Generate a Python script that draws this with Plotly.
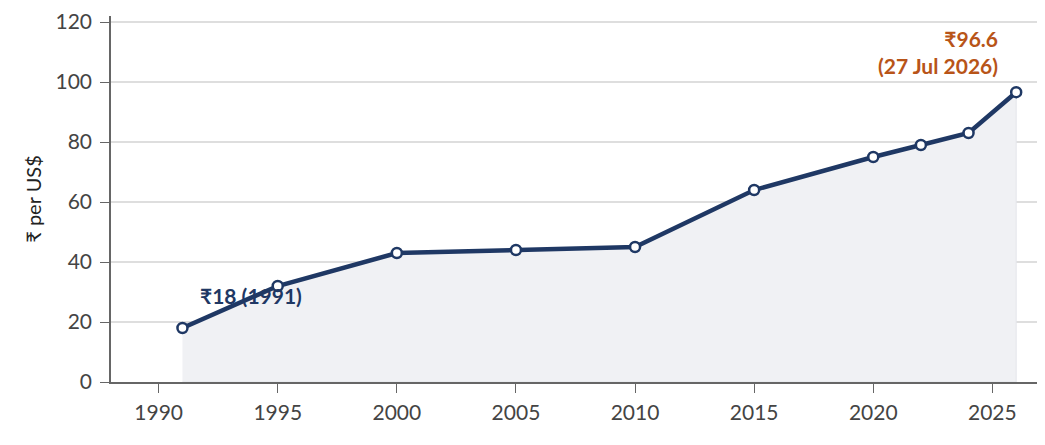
import plotly.graph_objects as go

# rupees per US dollar, selected years
years = [1991, 1995, 2000, 2005, 2010, 2015, 2020, 2022, 2024, 2026]
rates = [18, 32, 43, 44, 45, 64, 75, 79, 83, 96.6]

x_ticks = [1990, 1995, 2000, 2005, 2010, 2015, 2020, 2025]
y_ticks = [0, 20, 40, 60, 80, 100, 120]

start_label = "₹18 (1991)"
end_label = "₹96.6<br>(27 Jul 2026)"

NAVY = "#1f3864"
RUST = "#b85418"
FONT = "Lato, 'Open Sans', sans-serif"

fig = go.Figure()

# shaded area under the line (closed polygon so the edges show faintly)
fig.add_trace(go.Scatter(
    x=years + [years[-1], years[0]],
    y=rates + [0, 0],
    fill="toself",
    fillcolor="#f0f1f4",
    line=dict(color="#e3e5ea", width=1),
    mode="lines",
    hoverinfo="skip",
    showlegend=False,
))

fig.add_trace(go.Scatter(
    x=years,
    y=rates,
    mode="lines+markers",
    line=dict(color=NAVY, width=4.5),
    marker=dict(size=10, color="white", line=dict(color=NAVY, width=2.5)),
    showlegend=False,
))

# labels for the first and last points
fig.add_annotation(
    x=years[0] + 0.65, y=28.7, text=f"<b>{start_label}</b>",
    showarrow=False, xanchor="left", yanchor="middle",
    font=dict(size=21, color=NAVY, family=FONT),
)
fig.add_annotation(
    x=years[-1] - 0.66, y=110, text=f"<b>{end_label}</b>",
    showarrow=False, xanchor="right", yanchor="middle", align="right",
    font=dict(size=21, color=RUST, family=FONT),
)

# page body has an 8px margin, so the figure is shrunk by that much
fig.update_layout(
    width=1037, height=437,
    margin=dict(l=103, r=5, t=8, b=63),
    plot_bgcolor="white",
    paper_bgcolor="white",
    font=dict(family=FONT, size=21, color="#444"),
)

fig.update_xaxes(
    range=[1988, 2027],
    tickvals=x_ticks,
    showgrid=False,
    showline=True, linecolor="#666", linewidth=1.5,
    ticks="outside", ticklen=9, tickcolor="#666",
    ticklabelstandoff=2,
    zeroline=False,
    automargin=False,
)
fig.update_yaxes(
    range=[0, 122],
    tickvals=y_ticks,
    showgrid=True, gridcolor="#dedede", gridwidth=1.5,
    showline=True, linecolor="#666", linewidth=1.5,
    ticks="outside", ticklen=9, tickcolor="#666",
    ticklabelstandoff=4,
    zeroline=False,
    automargin=False,
    title=dict(text="₹ per US$", font=dict(size=20, color="#222"), standoff=9),
)

fig.write_html("out.html")
